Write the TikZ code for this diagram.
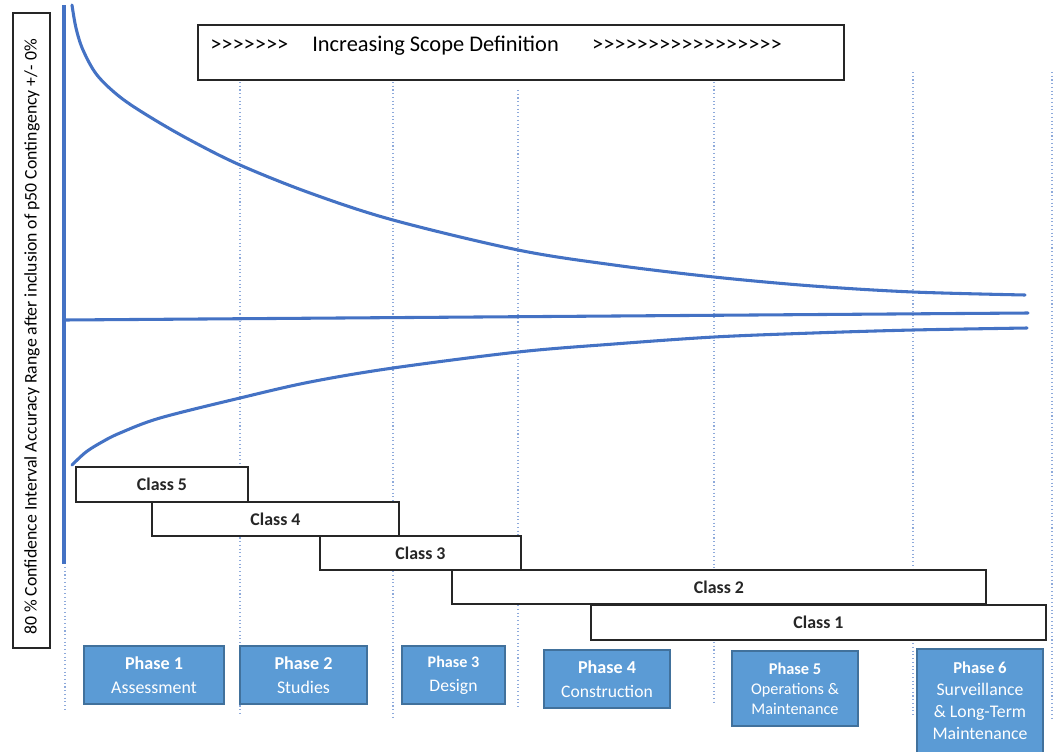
\documentclass[tikz,border=0pt]{standalone}
\usepackage{fontspec}
\setmainfont{Carlito}[Ligatures=TeXOff]
\usetikzlibrary{fit}
\definecolor{curveblue}{HTML}{4472C4}
\definecolor{phasefill}{HTML}{5B9BD5}
\definecolor{phaseedge}{HTML}{41719C}
\definecolor{gridblue}{HTML}{8EAADB}
\definecolor{boxedge}{HTML}{262626}
\tikzset{
  curve/.style={draw=curveblue, line width=2.3pt, line cap=round},
  guide/.style={draw=gridblue, line width=0.8pt, dotted},
  framebox/.style={draw=boxedge, line width=1.2pt, fill=white, inner sep=0pt},
  classbox/.style={framebox},
  classtext/.style={inner sep=0pt, font=\fontsize{13.4}{16}\selectfont\bfseries, text=boxedge},
  phasebox/.style={draw=phaseedge, line width=1pt, fill=phasefill, inner sep=0pt},
  phasetext/.style={inner sep=0pt, text=white, align=center},
}
\begin{document}
\begin{tikzpicture}[x=0.75pt, y=-0.75pt]
\useasboundingbox (0,0) rectangle (1054,751);

% dotted phase separators
\draw[guide] (65,567) -- (65,712);
\draw[guide] (240,82) -- (240,715);
\draw[guide] (393,82) -- (393,718);
\draw[guide] (518,90) -- (518,708);
\draw[guide] (714,82) -- (714,703);
\draw[guide] (913,72) -- (913,715);
\draw[guide] (1052,72) -- (1052,718);

% vertical axis
\draw[curve, line width=2.6pt, line cap=butt] (64,5) -- (64,564);

% accuracy range envelope
\draw[curve] plot[smooth, tension=0.55] coordinates {(72,5) (76,28) (83,50) (97,75) (120,97)
  (150,117) (190,140) (240,165) (310,193) (393,220) (518,250) (614,265) (714,277)
  (813,286) (913,292) (1025,295)};
\draw[curve] (64,320) -- (1028,313);
\draw[curve] plot[smooth, tension=0.55] coordinates {(72,465) (86,452) (102,442) (120,433)
  (160,418) (240,398) (310,382) (393,368) (518,352) (614,344) (714,337) (813,333)
  (913,330) (1027,328)};

% axis label
\node[framebox, fit={(13,13) (50,648)}] (ylab) {};
\node[rotate=90, inner sep=0pt, font=\fontsize{13.3}{15}\selectfont] (ylabtext) at (32,337)
  {80 \% Confidence Interval Accuracy Range after inclusion of p50 Contingency +/- 0\%};

% scope definition banner
\node[framebox, fit={(198,25) (844,80)}] (scope) {};
\node[anchor=west, inner sep=0pt, font=\fontsize{16.8}{19}\selectfont] (scopetext) at (210,46)
  {>>>>>>>\hspace{18pt}Increasing Scope Definition\hspace{25pt}>>>>>>>>>>>>>>>>>};

% estimate classes
\node[classbox, fit={(76,467) (248,502)}] (c5) {};
\node[classtext] (c5t) at (c5.center) {Class 5};
\node[classbox, fit={(152,502) (399,536)}] (c4) {};
\node[classtext] (c4t) at (c4.center) {Class 4};
\node[classbox, fit={(320,536) (521,570)}] (c3) {};
\node[classtext] (c3t) at (c3.center) {Class 3};
\node[classbox, fit={(452,570) (986,604)}] (c2) {};
\node[classtext] (c2t) at (c2.center) {Class 2};
\node[classbox, fit={(591,605) (1046,640)}] (c1) {};
\node[classtext] (c1t) at (c1.center) {Class 1};

% project phases
\node[phasebox, fit={(84,646) (224,704)}] (p1) {};
\node[phasetext, font=\fontsize{13.4}{18}\selectfont] (p1t) at (p1.center)
  {\textbf{\fontsize{13.6}{18}\selectfont Phase 1}\\Assessment};
\node[phasebox, fit={(240,646) (367,704)}] (p2) {};
\node[phasetext, font=\fontsize{13.4}{18}\selectfont] (p2t) at (p2.center)
  {\textbf{\fontsize{13.6}{18}\selectfont Phase 2}\\Studies};
\node[phasebox, fit={(402,646) (505,704)}] (p3) {};
\node[phasetext, font=\fontsize{13.2}{18}\selectfont] (p3t) at (p3.center)
  {\textbf{\fontsize{12.1}{18}\selectfont Phase 3}\\Design};
\node[phasebox, fit={(544,650) (670,708)}] (p4) {};
\node[phasetext, font=\fontsize{13.2}{18}\selectfont] (p4t) at (p4.center)
  {\textbf{\fontsize{13.6}{18}\selectfont Phase 4}\\Construction};
\node[phasebox, fit={(732,651) (858,726)}] (p5) {};
\node[phasetext, font=\fontsize{12.2}{15}\selectfont] (p5t) at (p5.center)
  {\textbf{\fontsize{12.3}{15}\selectfont Phase 5}\\Operations \&\\Maintenance};
\node[phasebox, fit={(917,649) (1043,753)}] (p6) {};
\node[phasetext, font=\fontsize{13.3}{16.5}\selectfont] (p6t) at (p6.center)
  {\textbf{\fontsize{12.5}{16.5}\selectfont Phase 6}\\Surveillance\\\& Long-Term\\Maintenance};
\end{tikzpicture}
\end{document}
